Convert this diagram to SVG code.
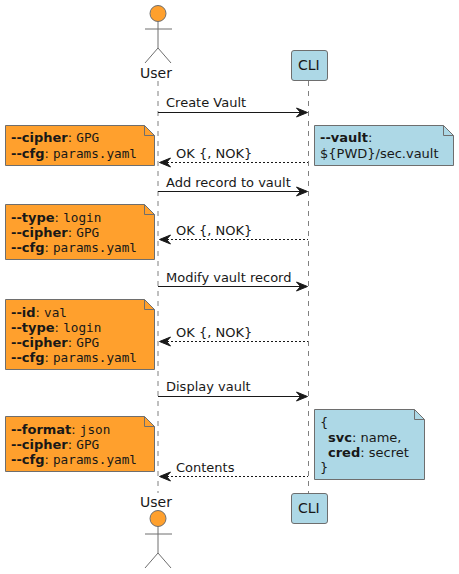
<svg xmlns="http://www.w3.org/2000/svg" width="459" height="574" viewBox="0 0 459 574">
<style>
text{font-family:"DejaVu Sans",sans-serif;font-size:13px;fill:#181818}
.m{font-family:"DejaVu Sans Mono",monospace;font-size:12.700px}
.b{font-weight:700}
.life{stroke:#808080;stroke-width:1;stroke-dasharray:5 5;fill:none}
.msg{stroke:#181818;stroke-width:1;fill:none}
.dash{stroke-dasharray:2 2}
.head{fill:#181818;stroke:#181818;stroke-width:1}
.org{fill:#FFA02D;stroke:#6E6E6E;stroke-width:1}
.blu{fill:#ADD8E6;stroke:#6E6E6E;stroke-width:1}
.fold{fill:none;stroke:#6E6E6E;stroke-width:1}
.act{fill:none;stroke:#6E6E6E;stroke-width:1}
.big{font-size:14px}
</style>
<defs>
<g id="stick"><circle cx="158" cy="13.500" r="8" class="org"/><path class="act" d="M158 21.500V48M145 29H172M145 63L158 48L171 63"/></g>
<path id="hr" class="head" d="M-11 -4.500L0 0L-11 4.500L-7 0Z"/>
<path id="hl" class="head" d="M11 -4.500L0 0L11 4.500L7 0Z"/>
</defs>
<g id="connectors">
<path class="life" d="M158 81V493"/>
<path class="life" d="M308.500 81V493"/>
<path class="msg" d="M158 112.500H304"/><use href="#hr" x="307.500" y="112.500"/>
<path class="msg dash" d="M163 162.500H308"/><use href="#hl" x="159.500" y="162.500"/>
<path class="msg" d="M158 191.500H304"/><use href="#hr" x="307.500" y="191.500"/>
<path class="msg dash" d="M163 239.500H308"/><use href="#hl" x="159.500" y="239.500"/>
<path class="msg" d="M158 286.500H304"/><use href="#hr" x="307.500" y="286.500"/>
<path class="msg dash" d="M163 341.500H308"/><use href="#hl" x="159.500" y="341.500"/>
<path class="msg" d="M158 396.500H304"/><use href="#hr" x="307.500" y="396.500"/>
<path class="msg dash" d="M163 476.500H308"/><use href="#hl" x="159.500" y="476.500"/>
<text x="166" y="107">Create Vault</text>
<text x="176" y="158">OK {, NOK}</text>
<text x="166" y="187">Add record to vault</text>
<text x="176" y="235">OK {, NOK}</text>
<text x="166" y="282">Modify vault record</text>
<text x="176" y="337">OK {, NOK}</text>
<text x="166" y="391">Display vault</text>
<text x="176" y="472">Contents</text>
</g>
<g id="user-top"><use href="#stick"/><text class="big" x="140" y="78">User</text></g>
<g id="user-bottom"><use href="#stick" y="505"/><text class="big" x="140" y="507">User</text></g>
<g id="cli-top"><rect class="blu" x="291.500" y="50.500" width="36" height="30" rx="2.500"/><text class="big" x="298" y="70">CLI</text></g>
<g id="cli-bottom"><rect class="blu" x="291.500" y="493.500" width="36" height="30" rx="2.500"/><text class="big" x="298" y="513">CLI</text></g>
<g id="note-1"><path class="org" d="M5.500 125.500H144.500L154.500 135.500V165.500H5.500Z"/><path class="fold" d="M144.500 125.500V135.500H154.500"/>
<text x="11" y="142"><tspan class="b">--cipher</tspan>: <tspan class="m">GPG</tspan></text>
<text x="11" y="158"><tspan class="b">--cfg</tspan>: <tspan class="m">params.yaml</tspan></text></g>
<g id="note-2"><path class="blu" d="M314.500 125.500H443.500L453.500 135.500V165.500H314.500Z"/><path class="fold" d="M443.500 125.500V135.500H453.500"/>
<text x="320" y="142"><tspan class="b">--vault</tspan>:</text>
<text x="320" y="158">${PWD}/sec.vault</text></g>
<g id="note-3"><path class="org" d="M5.500 204.500H144.500L154.500 214.500V259.500H5.500Z"/><path class="fold" d="M144.500 204.500V214.500H154.500"/>
<text x="11" y="222"><tspan class="b">--type</tspan>: <tspan class="m">login</tspan></text>
<text x="11" y="237"><tspan class="b">--cipher</tspan>: <tspan class="m">GPG</tspan></text>
<text x="11" y="252"><tspan class="b">--cfg</tspan>: <tspan class="m">params.yaml</tspan></text></g>
<g id="note-4"><path class="org" d="M5.500 299.500H144.500L154.500 309.500V369.500H5.500Z"/><path class="fold" d="M144.500 299.500V309.500H154.500"/>
<text x="11" y="317"><tspan class="b">--id</tspan>: <tspan class="m">val</tspan></text>
<text x="11" y="332"><tspan class="b">--type</tspan>: <tspan class="m">login</tspan></text>
<text x="11" y="347"><tspan class="b">--cipher</tspan>: <tspan class="m">GPG</tspan></text>
<text x="11" y="362"><tspan class="b">--cfg</tspan>: <tspan class="m">params.yaml</tspan></text></g>
<g id="note-5"><path class="org" d="M5.500 416.500H144.500L154.500 426.500V471.500H5.500Z"/><path class="fold" d="M144.500 416.500V426.500H154.500"/>
<text x="11" y="434"><tspan class="b">--format</tspan>: <tspan class="m">json</tspan></text>
<text x="11" y="449"><tspan class="b">--cipher</tspan>: <tspan class="m">GPG</tspan></text>
<text x="11" y="464"><tspan class="b">--cfg</tspan>: <tspan class="m">params.yaml</tspan></text></g>
<g id="note-6"><path class="blu" d="M314.500 409.500H414.500L424.500 419.500V479.500H314.500Z"/><path class="fold" d="M414.500 409.500V419.500H424.500"/>
<text x="320" y="427">{</text>
<text x="328" y="442"><tspan class="b">svc</tspan>: name,</text>
<text x="328" y="457"><tspan class="b">cred</tspan>: secret</text>
<text x="320" y="472">}</text></g>
</svg>
